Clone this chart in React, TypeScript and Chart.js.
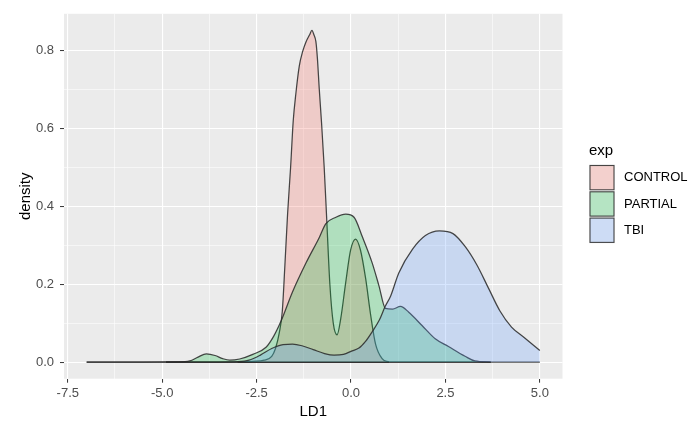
import React, { useEffect, useRef } from 'react';
import { Chart, registerables } from 'chart.js';

Chart.register(...registerables);

// ---------- data ----------
const SERIES_NAMES = ['CONTROL', 'PARTIAL', 'TBI'];
const LEGEND_TITLE = 'exp';
const X_TITLE = 'LD1';
const Y_TITLE = 'density';

const CONTROL_X = [-3.0, -2.6, -2.3, -2.1, -2.0, -1.9, -1.82, -1.75, -1.68, -1.6, -1.53, -1.46, -1.37, -1.28, -1.19, -1.1, -1.035, -0.98, -0.93, -0.89, -0.84, -0.78, -0.71, -0.64, -0.56, -0.47, -0.37, -0.27, -0.14, -0.01, 0.12, 0.25, 0.39, 0.52, 0.65, 0.83, 1.0];
const CONTROL_Y = [0, 0.002, 0.005, 0.015, 0.035, 0.075, 0.13, 0.25, 0.38, 0.5, 0.62, 0.69, 0.76, 0.798, 0.823, 0.84, 0.852, 0.84, 0.823, 0.78, 0.7, 0.614, 0.5, 0.36, 0.2, 0.1, 0.07, 0.113, 0.205, 0.288, 0.316, 0.288, 0.213, 0.121, 0.046, 0.008, 0];

const PARTIAL_X = [-7.0, -5.5, -4.6, -4.27, -4.05, -3.83, -3.6, -3.4, -3.21, -2.95, -2.6, -2.25, -2.05, -1.85, -1.55, -1.19, -0.84, -0.67, -0.4, -0.14, 0.08, 0.3, 0.56, 0.74, 0.91, 1.1, 1.31, 1.53, 1.88, 2.23, 2.58, 3.02, 3.28, 3.7];
const PARTIAL_Y = [0, 0, 0.0005, 0.003, 0.013, 0.021, 0.017, 0.009, 0.005, 0.008, 0.02, 0.038, 0.066, 0.106, 0.18, 0.255, 0.32, 0.355, 0.372, 0.38, 0.372, 0.322, 0.255, 0.196, 0.138, 0.136, 0.143, 0.128, 0.094, 0.06, 0.04, 0.015, 0.003, 0];

const TBI_X = [-4.9, -3.5, -3.0, -2.7, -2.4, -2.1, -1.8, -1.55, -1.3, -1.0, -0.7, -0.45, -0.2, 0.03, 0.21, 0.39, 0.56, 0.75, 0.9, 1.05, 1.265, 1.63, 1.97, 2.34, 2.7, 3.02, 3.33, 3.64, 3.94, 4.25, 4.6, 5.0];
const TBI_Y = [0, 0, 0.001, 0.005, 0.018, 0.035, 0.045, 0.046, 0.042, 0.032, 0.022, 0.018, 0.02, 0.029, 0.036, 0.054, 0.078, 0.108, 0.142, 0.17, 0.229, 0.29, 0.325, 0.337, 0.33, 0.297, 0.25, 0.19, 0.132, 0.09, 0.062, 0.03];

const X_MAJOR_TICKS = [-7.5, -5.0, -2.5, 0.0, 2.5, 5.0];
const X_MINOR_TICKS = [-6.25, -3.75, -1.25, 1.25, 3.75];
const Y_MAJOR_TICKS = [0.0, 0.2, 0.4, 0.6, 0.8];
const Y_MINOR_TICKS = [0.1, 0.3, 0.5, 0.7];

const X_LIMITS = [-7.6, 5.6];
const Y_LIMITS = [-0.0426, 0.8946];

// ---------- styles ----------
const FILL_COLORS = ['rgba(248,118,109,0.27)', 'rgba(0,186,56,0.25)', 'rgba(97,156,255,0.25)'];
const LINE_COLOR = 'rgba(40,40,40,0.85)';
const FONT = '"Liberation Sans", Arial, Helvetica, sans-serif';

const toPoints = (xs: number[], ys: number[]) => xs.map((x, i) => ({ x, y: ys[i] }));

const panelPlugin = {
  id: 'ggPanel',
  beforeDraw(chart: any) {
    const { ctx, chartArea: a, width, height } = chart;
    ctx.save();
    ctx.fillStyle = '#ffffff';
    ctx.fillRect(0, 0, width, height);
    ctx.fillStyle = '#EBEBEB';
    ctx.fillRect(a.left, a.top, a.right - a.left, a.bottom - a.top);
    ctx.restore();
  },
};

const legendPlugin = {
  id: 'ggLegend',
  afterDraw(chart: any) {
    const ctx = chart.ctx;
    ctx.save();
    ctx.textAlign = 'left';
    ctx.textBaseline = 'middle';
    ctx.fillStyle = '#000';
    ctx.font = `15px ${FONT}`;
    ctx.fillText(LEGEND_TITLE, 589, 151);
    const kx = 589;
    const kw = 26;
    const kh = 26.3;
    SERIES_NAMES.forEach((name, i) => {
      const y = 164.5 + i * kh;
      ctx.fillStyle = '#F2F2F2';
      ctx.fillRect(kx, y, kw, kh);
      ctx.fillStyle = FILL_COLORS[i];
      ctx.fillRect(kx + 1, y + 1, kw - 2, kh - 2);
      ctx.strokeStyle = LINE_COLOR;
      ctx.lineWidth = 1.1;
      ctx.strokeRect(kx + 1, y + 1, kw - 2, kh - 2);
      ctx.fillStyle = '#000';
      ctx.font = `13px ${FONT}`;
      ctx.fillText(name, 624, y + kh / 2);
    });
    ctx.restore();
  },
};

export default function App() {
  const ref = useRef<HTMLCanvasElement | null>(null);

  useEffect(() => {
    if (!ref.current) return;
    const seriesX = [CONTROL_X, PARTIAL_X, TBI_X];
    const seriesY = [CONTROL_Y, PARTIAL_Y, TBI_Y];

    const curveSets = SERIES_NAMES.map((name, i) => ({
      label: name,
      data: toPoints(seriesX[i], seriesY[i]),
      borderColor: LINE_COLOR,
      borderWidth: 1.25,
      backgroundColor: FILL_COLORS[i],
      fill: 'origin',
      pointRadius: 0,
      cubicInterpolationMode: 'monotone' as const,
      order: 3 - i,
    }));
    const baseSets = SERIES_NAMES.map((name, i) => ({
      label: name + ' base',
      data: [
        { x: seriesX[i][0], y: 0 },
        { x: seriesX[i][seriesX[i].length - 1], y: 0 },
      ],
      borderColor: LINE_COLOR,
      borderWidth: 1.25,
      fill: false,
      pointRadius: 0,
      order: 4,
    }));

    const xAll = [...X_MAJOR_TICKS, ...X_MINOR_TICKS].sort((a, b) => a - b);
    const yAll = [...Y_MAJOR_TICKS, ...Y_MINOR_TICKS].sort((a, b) => a - b);
    const isMajorX = (v: number) => X_MAJOR_TICKS.some((t) => Math.abs(t - v) < 1e-9);
    const isMajorY = (v: number) => Y_MAJOR_TICKS.some((t) => Math.abs(t - v) < 1e-9);

    const chart = new Chart(ref.current, {
      type: 'line',
      data: { datasets: [...curveSets, ...baseSets] as any },
      plugins: [panelPlugin, legendPlugin],
      options: {
        animation: false,
        responsive: false,
        events: [],
        layout: { padding: { top: 5.6, right: 132.5, left: 0, bottom: 0 } },
        plugins: {
          legend: { display: false },
          tooltip: { enabled: false },
        },
        scales: {
          x: {
            type: 'linear',
            min: X_LIMITS[0],
            max: X_LIMITS[1],
            afterBuildTicks: (scale: any) => {
              scale.ticks = xAll.map((v) => ({ value: v }));
            },
            afterFit: (scale: any) => {
              scale.height = 49.3;
            },
            border: { display: false },
            grid: {
              color: '#ffffff',
              lineWidth: (c: any) => (isMajorX(c.tick?.value ?? 0) ? 1.1 : 0.55),
              tickColor: (c: any) => (isMajorX(c.tick?.value ?? 0) ? '#333333' : 'rgba(0,0,0,0)'),
              tickLength: 4,
              tickWidth: 1,
            },
            ticks: {
              autoSkip: false,
              maxRotation: 0,
              padding: 3,
              color: '#4D4D4D',
              font: { family: FONT, size: 13 },
              callback: (v: any) => (isMajorX(Number(v)) ? Number(v).toFixed(1) : ''),
            },
            title: {
              display: true,
              text: X_TITLE,
              color: '#000',
              font: { family: FONT, size: 15 },
              padding: { top: 0, bottom: 7 },
            },
          },
          y: {
            type: 'linear',
            min: Y_LIMITS[0],
            max: Y_LIMITS[1],
            afterBuildTicks: (scale: any) => {
              scale.ticks = yAll.map((v) => ({ value: v }));
            },
            afterFit: (scale: any) => {
              scale.width = 64;
            },
            border: { display: false },
            grid: {
              color: '#ffffff',
              lineWidth: (c: any) => (isMajorY(c.tick?.value ?? 0) ? 1.1 : 0.55),
              tickColor: (c: any) => (isMajorY(c.tick?.value ?? 0) ? '#333333' : 'rgba(0,0,0,0)'),
              tickLength: 4,
              tickWidth: 1,
            },
            ticks: {
              autoSkip: false,
              padding: 6,
              color: '#4D4D4D',
              font: { family: FONT, size: 13 },
              callback: (v: any) => (isMajorY(Number(v)) ? Number(v).toFixed(1) : ''),
            },
            title: {
              display: true,
              text: Y_TITLE,
              color: '#000',
              font: { family: FONT, size: 15 },
              padding: { top: 17, bottom: 0 },
            },
          },
        },
      } as any,
    });
    return () => chart.destroy();
  }, []);

  return (
    <div style={{ position: 'absolute', left: 0, top: 0, width: 695, height: 428, background: '#fff' }}>
      <canvas ref={ref} width={695} height={428} style={{ display: 'block', width: 695, height: 428 }} />
    </div>
  );
}
